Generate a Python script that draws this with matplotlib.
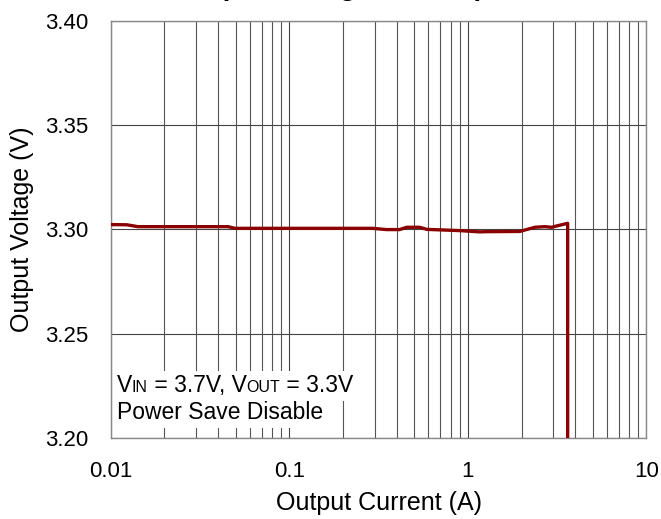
import matplotlib.pyplot as plt
from matplotlib.ticker import FixedLocator, NullFormatter
from matplotlib.offsetbox import TextArea, HPacker, AnnotationBbox

plt.rcParams['font.family'] = ['Liberation Sans', 'DejaVu Sans']

# data
current = [0.01, 0.0123, 0.0142, 0.0454, 0.0496, 0.293, 0.35, 0.414, 0.455, 0.538,
           0.589, 0.901, 1.167, 1.277, 1.95, 2.37, 2.69, 2.94, 3.27, 3.62, 3.62]
voltage = [3.3023, 3.3022, 3.3013, 3.3013, 3.3005, 3.3005, 3.2999, 3.2999, 3.301, 3.301,
           3.300, 3.2994, 3.2988, 3.2989, 3.2990, 3.301, 3.3013, 3.301, 3.302, 3.3029, 3.18]

x_ticks = [0.01, 0.1, 1, 10]
x_tick_labels = ["0.01", "0.1", "1", "10"]
y_ticks = [3.20, 3.25, 3.30, 3.35, 3.40]
y_tick_labels = ["3.20", "3.25", "3.30", "3.35", "3.40"]

fig = plt.figure(figsize=(6.61, 5.19), dpi=100)
ax = fig.add_axes([0.1675, 0.1566, 0.8105, 0.8029])

ax.set_xscale('log')
ax.set_xlim(0.01, 10)
ax.set_ylim(3.20, 3.40)

minor = [m * 10.0 ** e for e in (-2, -1, 0) for m in range(2, 10)]
ax.xaxis.set_major_locator(FixedLocator(x_ticks))
ax.xaxis.set_minor_locator(FixedLocator(minor))
ax.xaxis.set_minor_formatter(NullFormatter())
ax.set_xticks(x_ticks, x_tick_labels)
ax.set_yticks(y_ticks, y_tick_labels)
ax.tick_params(which='both', length=0, labelsize=16)
ax.tick_params(axis='x', pad=17)
ax.tick_params(axis='y', pad=16)
ax.grid(True, which='major', color='#444444', linewidth=0.8)
ax.grid(True, which='minor', axis='x', color='#555555', linewidth=0.8)
for s in ax.spines.values():
    s.set_color('#888888')
    s.set_linewidth(1.0)

ax.plot(current, voltage, color='#8b0000', linewidth=2.4, zorder=3)

ax.set_xlabel("Output Current (A)", fontsize=18, labelpad=6)
ax.set_ylabel("Output Voltage (V)", fontsize=18, labelpad=8)

# annotation lines, small-cap style subscripts on the same baseline
big = dict(fontsize=16.5)
small = dict(fontsize=11.5)
line1 = HPacker(children=[TextArea("V", textprops=big), TextArea("IN", textprops=small),
                          TextArea(" = 3.7V, V", textprops=big), TextArea("OUT", textprops=small),
                          TextArea(" = 3.3V", textprops=big)],
                align='baseline', pad=0, sep=0)
line2 = TextArea("Power Save Disable", textprops=big)
for box, y in ((line1, 3.2195), (line2, 3.2065)):
    ab = AnnotationBbox(box, (0.0108, y), xycoords='data', box_alignment=(0, 0),
                        frameon=True, pad=0.25, zorder=4,
                        bboxprops=dict(facecolor='white', edgecolor='none'))
    ax.add_artist(ab)

# title sits mostly above the top edge, as in the reference
fig.text(0.605, 1 + 5.0 / 519, "Output Voltage vs. Output Current", fontsize=20,
         fontweight='bold', ha='center', va='baseline')

fig.savefig("out.png", dpi=100)
